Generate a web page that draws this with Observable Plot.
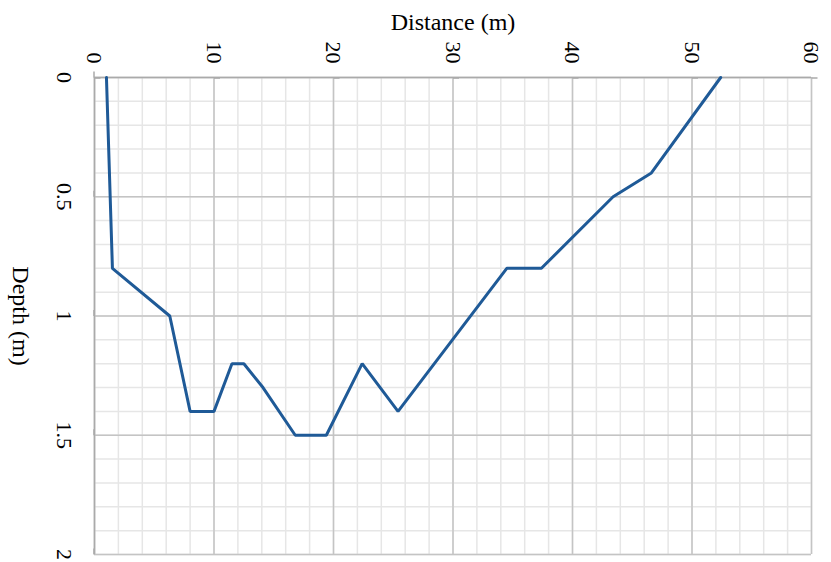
<!DOCTYPE html>
<html>
<head>
<meta charset="utf-8">
<script src="https://cdn.jsdelivr.net/npm/d3@7"></script>
<script src="https://cdn.jsdelivr.net/npm/@observablehq/plot@0.6"></script>
<style>
  html, body { margin: 0; padding: 0; background: #fff; }
  #chart svg { display: block; }
</style>
</head>
<body>
<div id="chart"></div>
<script>
// Data
const distance = [1, 1.5, 6.3, 8, 10, 11.5, 12.5, 14.1, 16.8, 19.4, 22.4, 25.4, 34.5, 37.4, 43.4, 46.6, 52.4];
const depth    = [0, 0.8, 1.0, 1.4, 1.4, 1.2, 1.2, 1.3, 1.5, 1.5, 1.2, 1.4, 0.8, 0.8, 0.5, 0.4, 0];
const xTicks = [0, 10, 20, 30, 40, 50, 60];
const yTicks = [0, 0.5, 1, 1.5, 2];
const xMinor = d3.range(0, 61, 2);
const yMinor = d3.range(0, 21, 1).map(d => d / 10);

const profile = distance.map((d, i) => ({distance: d, depth: depth[i]}));

const font = "'Liberation Serif', 'Times New Roman', serif";

const chart = Plot.plot({
  width: 831,
  height: 562,
  marginLeft: 94,
  marginRight: 20,
  marginTop: 77,
  marginBottom: 8,
  style: {fontFamily: font, background: "#fff"},
  x: {domain: [0, 60]},
  y: {domain: [0, 2], reverse: true},
  marks: [
    Plot.gridX(xMinor, {stroke: "#e6e6e6", strokeOpacity: 1, strokeWidth: 1.5}),
    Plot.gridY(yMinor, {stroke: "#e6e6e6", strokeOpacity: 1, strokeWidth: 1.5}),
    Plot.gridX(xTicks, {stroke: "#c4c4c4", strokeOpacity: 1, strokeWidth: 1.5}),
    Plot.gridY(yTicks, {stroke: "#c4c4c4", strokeOpacity: 1, strokeWidth: 1.5}),
    Plot.axisX(xTicks, {
      anchor: "top", label: null, tickSize: 6, tickPadding: 8,
      rotate: 90, textAnchor: "end", lineAnchor: "middle",
      tickFormat: d => String(d),
      fontSize: 22, fontFamily: font, fill: "#000", stroke: "#aaa", strokeWidth: 1.5
    }),
    Plot.axisY(yTicks, {
      anchor: "left", label: null, tickSize: 6, tickPadding: 24,
      rotate: 90, textAnchor: "middle", lineAnchor: "middle",
      tickFormat: d => String(d),
      fontSize: 22, fontFamily: font, fill: "#000", stroke: "#aaa", strokeWidth: 1.5
    }),
    Plot.ruleY([0], {stroke: "#aaa", strokeWidth: 1.5}),
    Plot.ruleX([0], {stroke: "#aaa", strokeWidth: 1.5}),
    Plot.line(profile, {x: "distance", y: "depth", stroke: "#1f5a97", strokeWidth: 3, strokeLinejoin: "miter"}),
    Plot.text(["Distance (m)"], {
      frameAnchor: "top", dy: -65, lineAnchor: "top",
      fontSize: 24, fontFamily: font, fill: "#000"
    }),
    Plot.text(["Depth (m)"], {
      frameAnchor: "left", dx: -74, rotate: 90, textAnchor: "middle", lineAnchor: "middle",
      fontSize: 24, fontFamily: font, fill: "#000"
    })
  ]
});
document.getElementById("chart").append(chart);
</script>
</body>
</html>
